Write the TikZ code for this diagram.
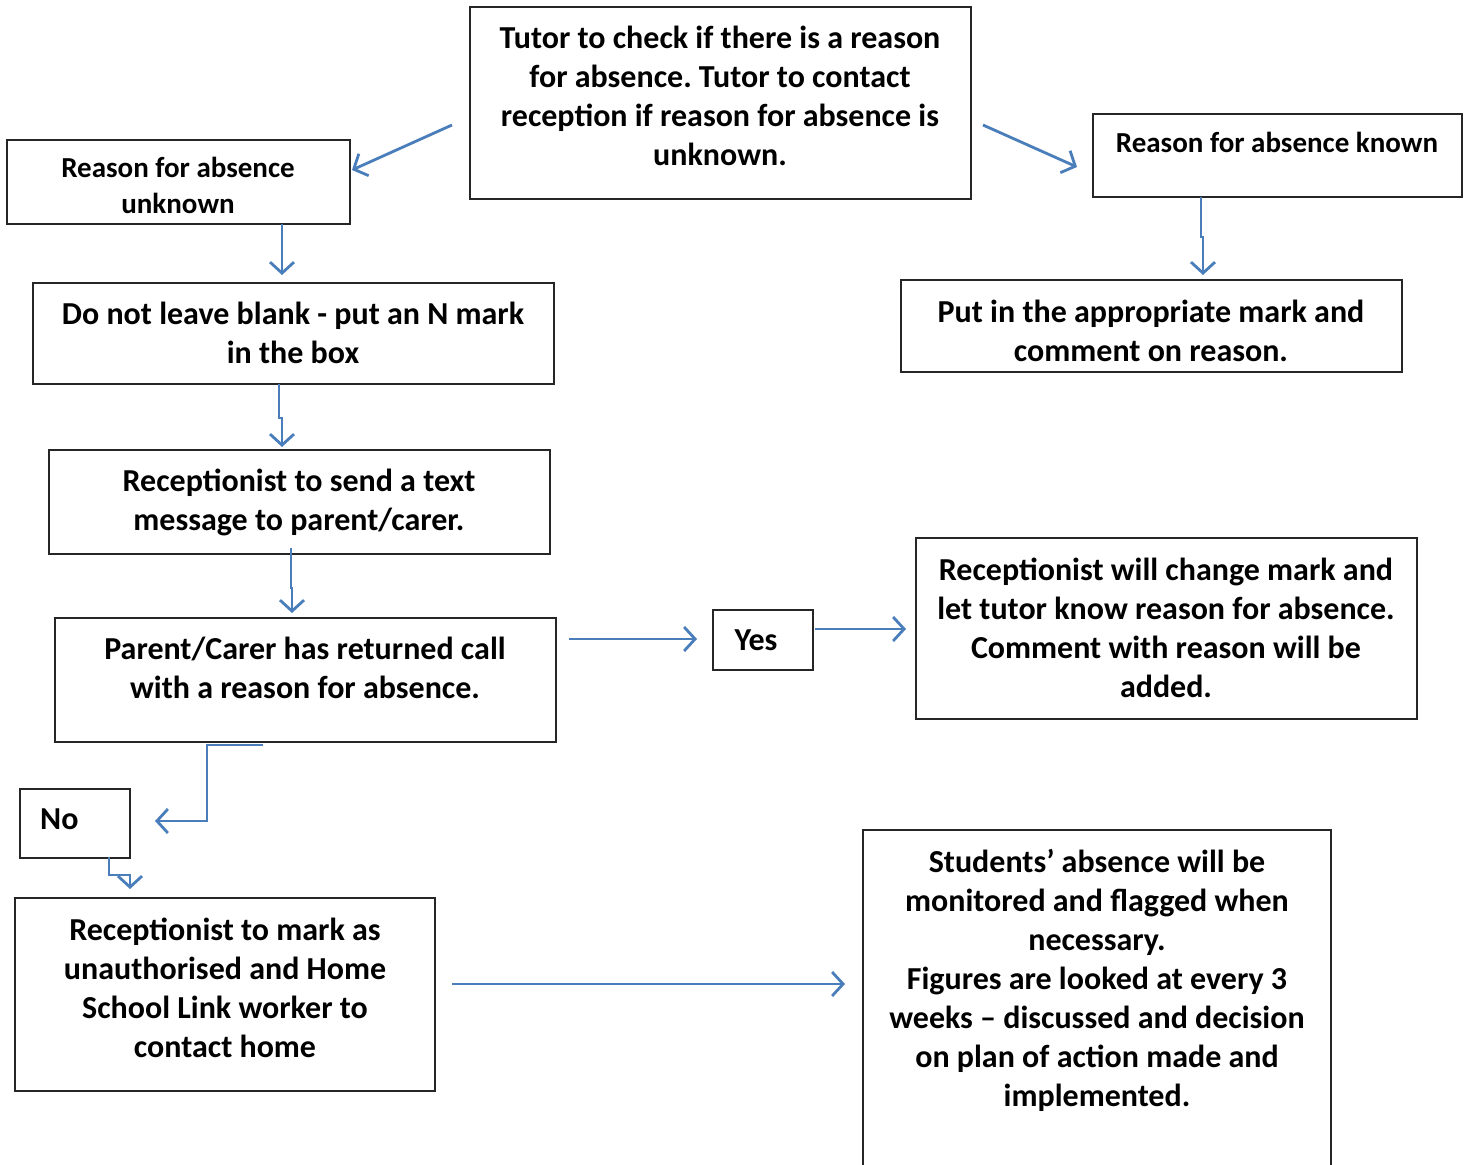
\documentclass[tikz,border=0pt]{standalone}
\usepackage{fontspec}
\setmainfont{Carlito}
\usetikzlibrary{arrows.meta}
\frenchspacing
\begin{document}
\begin{tikzpicture}[x=1pt,y=-1pt,
  box/.style={draw=black!85,line width=1.3pt,inner sep=0pt},
  txt/.style={align=center,font=\fontsize{32}{39}\selectfont\bfseries,inner sep=0pt},
  stxt/.style={align=center,font=\fontsize{29}{36}\selectfont\bfseries,inner sep=0pt},
  conn/.style={draw={rgb,255:red,74;green,126;blue,187},line width=2.8pt,-{Straight Barb[length=11pt,width=24pt,line width=2.8pt]}}]
\useasboundingbox (0,0) rectangle (1468,1165);
% boxes
\draw[box] (470,7) rectangle (971,199);
\node[txt,anchor=north] (toptxt) at (720,26) {Tutor to check if there is a reason\\for absence. Tutor to contact\\reception if reason for absence is\\unknown.};
\draw[box] (7,140) rectangle (350,224);
\node[stxt,anchor=north] (unk) at (178,157) {Reason for absence\\unknown};
\draw[box] (1093,114) rectangle (1462,197);
\node[stxt,anchor=north] (known) at (1277,132) {Reason for absence known};
\draw[box] (33,283) rectangle (554,384);
\node[txt,anchor=north] (donot) at (293,302) {Do not leave blank - put an N mark\\in the box};
\draw[box] (901,280) rectangle (1402,372);
\node[txt,anchor=north] (put) at (1151,300) {Put in the appropriate mark and\\comment on reason.};
\draw[box] (49,450) rectangle (550,554);
\node[txt,anchor=north] (send) at (299,469) {Receptionist to send a text\\message to parent/carer.};
\draw[box] (55,618) rectangle (556,742);
\node[txt,anchor=north] (parent) at (305,637) {Parent/Carer has returned call\\with a reason for absence.};
\draw[box] (713,610) rectangle (813,670);
\node[txt,anchor=north] (yes) at (756,630) {Yes};
\draw[box] (916,538) rectangle (1417,719);
\node[txt,anchor=north] (change) at (1166,558) {Receptionist will change mark and\\let tutor know reason for absence.\\Comment with reason will be\\added.};
\draw[box] (20,789) rectangle (130,858);
\node[txt,anchor=north west] (no) at (40,809) {No};
\draw[box] (15,898) rectangle (435,1091);
\node[txt,anchor=north] (mark) at (225,918) {Receptionist to mark as\\unauthorised and Home\\School Link worker to\\contact home};
\draw[box] (863,1175) -- (863,830) -- (1331,830) -- (1331,1175);
\node[txt,anchor=north] (stud) at (1097,849) {Students’ absence will be\\monitored and flagged when\\necessary.\\Figures are looked at every 3\\weeks – discussed and decision\\on plan of action made and\\implemented.};
% connectors
\coordinate (a1) at (452,125); \coordinate (a2) at (352,170);
\draw[conn] (a1) -- (a2);
\coordinate (b1) at (983,125); \coordinate (b2) at (1077,167);
\draw[conn] (b1) -- (b2);
\coordinate (c1) at (1201,197); \coordinate (c2) at (1203,275);
\draw[conn] (c1) -- (1201,237) -- (1203,237) -- (c2);
\coordinate (d1) at (282,224); \coordinate (d2) at (282,275);
\draw[conn] (d1) -- (d2);
\coordinate (e1) at (279,384); \coordinate (e2) at (282,447);
\draw[conn] (e1) -- (279,418) -- (282,418) -- (e2);
\coordinate (f1) at (291,548); \coordinate (f2) at (292,613);
\draw[conn] (f1) -- (291,588) -- (292,588) -- (f2);
\coordinate (g1) at (569,639); \coordinate (g2) at (697,639);
\draw[conn] (g1) -- (g2);
\coordinate (h1) at (815,629); \coordinate (h2) at (906,629);
\draw[conn] (h1) -- (h2);
\coordinate (i1) at (263,745); \coordinate (i2) at (155,821);
\draw[conn] (i1) -- (207,745) -- (207,821) -- (i2);
\coordinate (j1) at (109,857); \coordinate (j2) at (130,889);
\draw[conn] (j1) -- (109,875) -- (130,875) -- (j2);
\coordinate (k1) at (452,984); \coordinate (k2) at (845,984);
\draw[conn] (k1) -- (k2);
\end{tikzpicture}
\end{document}
